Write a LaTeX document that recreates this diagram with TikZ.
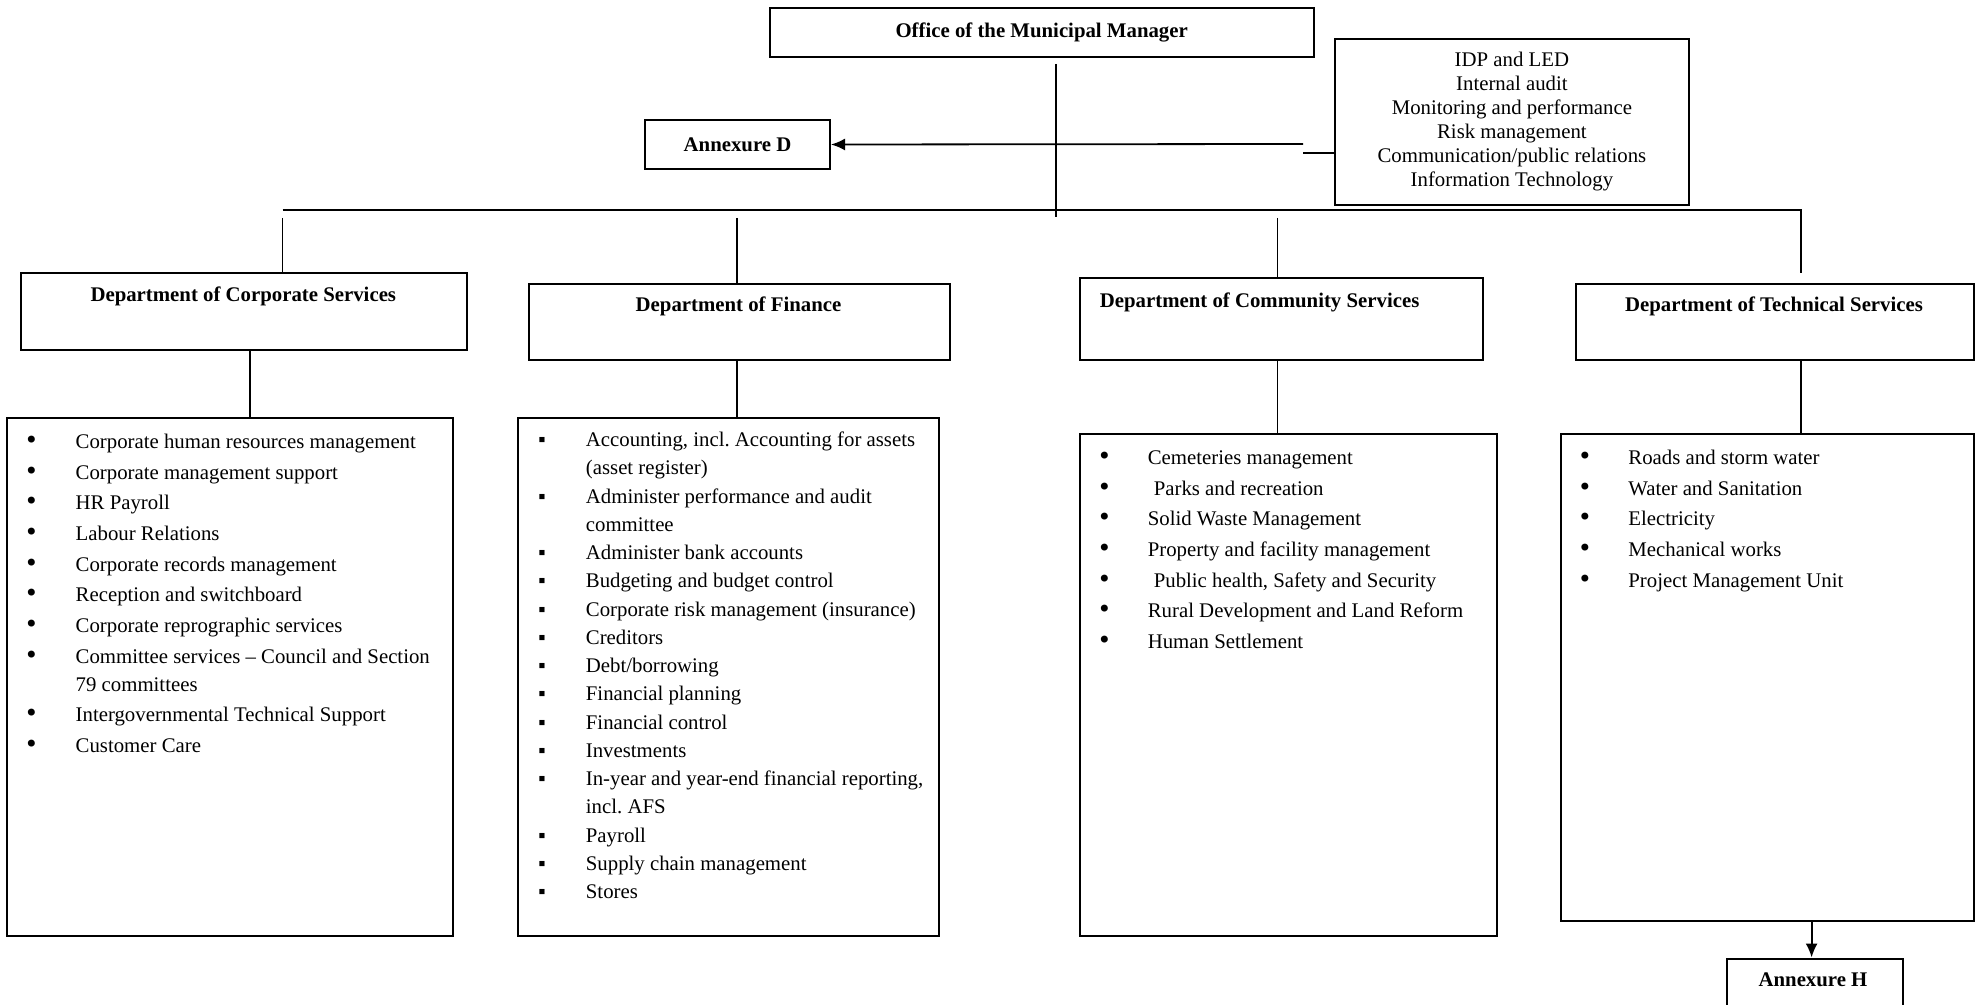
\documentclass[tikz,border=0pt]{standalone}
\usepackage{fontspec}
\setmainfont{Liberation Serif}
\newfontfamily\bulletfont{DejaVu Sans}
\usetikzlibrary{arrows.meta}
\frenchspacing
\begin{document}
\begin{tikzpicture}[x=0.5pt,y=-0.5pt,
  txt/.style={font=\fontsize{10.4}{12}\selectfont, inner sep=0pt},
  ttl/.style={font=\fontsize{10.4}{12}\selectfont\bfseries, inner sep=0pt},
  dot/.style={font=\bulletfont\fontsize{12}{12}\selectfont, inner sep=0pt, anchor=base},
  sq/.style={font=\fontsize{10.4}{12}\selectfont, inner sep=0pt, anchor=base},
  box/.style={draw, line width=1pt, inner sep=0pt, anchor=north west},
  ln/.style={line width=0.9pt},
  bus/.style={line width=1pt},
  tip/.style={-{Latex[length=7pt,width=6pt]}}
]
\useasboundingbox (0,0) rectangle (1975,1005);
\clip (0,0) rectangle (1975,1005);

% top boxes
\node[box, ttl, minimum width=272.15pt, minimum height=24.35pt] (office) at (768.5,7.3) {Office of the Municipal Manager};
\node[box, ttl, minimum width=92.5pt, minimum height=24.5pt] (annexD) at (644,119) {Annexure D};
\node[box, txt, align=center, minimum width=176.9pt, minimum height=83pt] (idp) at (1334,38)
  {IDP and LED\\Internal audit\\Monitoring and performance\\Risk management\\Communication/public relations\\Information Technology};

% department boxes
\node[box, minimum width=222.6pt, minimum height=38.5pt] (corp) at (20.4,272) {};
\node[box, minimum width=210.5pt, minimum height=38pt] (fin) at (528,283) {};
\node[box, minimum width=201.5pt, minimum height=41pt] (comm) at (1079,277) {};
\node[box, minimum width=199pt, minimum height=38pt] (tech) at (1575,283) {};

\node[ttl, anchor=base] (corpT) at (243.3,302) {Department of Corporate Services};
\node[ttl, anchor=base] (finT) at (738.5,312) {Department of Finance};
\node[ttl, anchor=base west] (commT) at (1099.5,308) {Department of Community Services};
\node[ttl, anchor=base] (techT) at (1774,312) {Department of Technical Services};

% list boxes
\node[box, minimum width=222.55pt, minimum height=259pt] (corpL) at (6.4,417) {};
\node[box, minimum width=210.45pt, minimum height=259pt] (finL) at (516.6,417) {};
\node[box, minimum width=208.3pt, minimum height=251.1pt] (commL) at (1079,432.8) {};
\node[box, minimum width=206.65pt, minimum height=243.45pt] (techL) at (1559.7,432.8) {};

% annexure H
\node[box, minimum width=88pt, minimum height=30pt] (annexH) at (1725.7,957.5) {};
\node[ttl, anchor=base] (annexHT) at (1813,986.6) {Annexure H};

% lists
\foreach \yy/\lbl/\bb [count=\i] in {
  448.4/{Corporate human resources management}/1,
  479.3/{Corporate management support}/1,
  509.4/{HR Payroll}/1,
  540.3/{Labour Relations}/1,
  571.9/{Corporate records management}/1,
  601.6/{Reception and switchboard}/1,
  632.9/{Corporate reprographic services}/1,
  663.7/{Committee services – Council and Section}/1,
  691.5/{79 committees}/0,
  721.6/{Intergovernmental Technical Support}/1,
  752.5/{Customer Care}/1}{
  \node[txt, anchor=base west] (corpI-\i) at (75.3,\yy) {\lbl};
  \ifnum\bb=1 \node[dot] (corpB-\i) at (31.5,\yy) {•};\fi
}

\foreach \yy/\lbl/\bb [count=\i] in {
  446.5/{Accounting, incl. Accounting for assets}/1,
  474.8/{(asset register)}/0,
  503.0/{Administer performance and audit}/1,
  531.3/{committee}/0,
  559.5/{Administer bank accounts}/1,
  587.8/{Budgeting and budget control}/1,
  616.1/{Corporate risk management (insurance)}/1,
  644.3/{Creditors}/1,
  672.6/{Debt/borrowing}/1,
  700.8/{Financial planning}/1,
  729.1/{Financial control}/1,
  757.4/{Investments}/1,
  785.6/{In-year and year-end financial reporting,}/1,
  813.9/{incl. AFS}/0,
  842.1/{Payroll}/1,
  870.4/{Supply chain management}/1,
  898.7/{Stores}/1}{
  \node[txt, anchor=base west] (finI-\i) at (585.5,\yy) {\lbl};
  \ifnum\bb=1 \node[sq] (finB-\i) at (542,\yy) {▪};\fi
}

\foreach \yy/\lbl [count=\i] in {
  464.6/{Cemeteries management},
  495.9/{\hspace*{3pt}Parks and recreation},
  525.6/{Solid Waste Management},
  556.5/{Property and facility management},
  587.3/{\hspace*{3pt}Public health, Safety and Security},
  617.4/{Rural Development and Land Reform},
  648.3/{Human Settlement}}{
  \node[txt, anchor=base west] (commI-\i) at (1147.4,\yy) {\lbl};
  \node[dot] (commB-\i) at (1104.5,\yy) {•};
}

\foreach \yy/\lbl [count=\i] in {
  464.6/{Roads and storm water},
  495.9/{Water and Sanitation},
  525.6/{Electricity},
  556.5/{Mechanical works},
  587.3/{Project Management Unit}}{
  \node[txt, anchor=base west] (techI-\i) at (1628,\yy) {\lbl};
  \node[dot] (techB-\i) at (1585,\yy) {•};
}

% connectors
\coordinate (mmA) at (1056,64);
\coordinate (mmB) at (1056,217);
\draw[ln] (mmA) -- (mmB);

\coordinate (jogA) at (1303,153);
\coordinate (jogB) at (1303,144);
\draw[ln] (idp.west |- jogA) -- (jogA);
\draw[ln, tip] (jogB) -- (annexD.east);

\coordinate (busL) at (282.5,210);
\coordinate (busR) at (1801,210);
\coordinate (techEnd) at (1801,273);
\draw[bus] (busL) -- (busR) -- (techEnd);

\coordinate (dCorp) at (282.5,218);
\coordinate (dFin) at (736.6,218);
\coordinate (dComm) at (1277.4,218);
\draw[ln] (dCorp) -- (dCorp |- corp.north);
\draw[ln] (dFin) -- (dFin |- fin.north);
\draw[ln] (dComm) -- (dComm |- comm.north);

\coordinate (xCorp) at (250,0);
\coordinate (xFin) at (736.6,0);
\coordinate (xComm) at (1277.4,0);
\coordinate (xTech) at (1801,0);
\coordinate (xAnH) at (1811.6,0);
\draw[ln] (corp.south -| xCorp) -- (corpL.north -| xCorp);
\draw[ln] (fin.south -| xFin) -- (finL.north -| xFin);
\draw[ln] (comm.south -| xComm) -- (commL.north -| xComm);
\draw[ln] (tech.south -| xTech) -- (techL.north -| xTech);
\draw[ln, tip] (techL.south -| xAnH) -- (annexH.north -| xAnH);
\end{tikzpicture}
\end{document}
